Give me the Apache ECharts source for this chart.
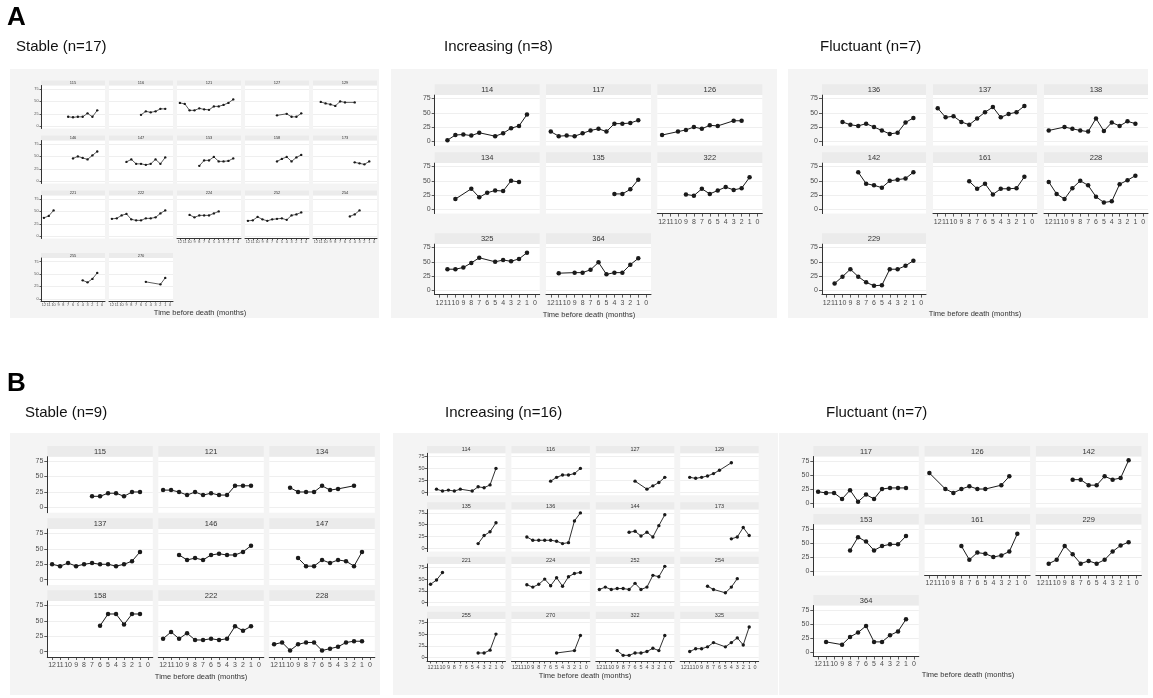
<!DOCTYPE html>
<html>
<head>
<meta charset="utf-8">
<script src="https://cdn.jsdelivr.net/npm/echarts@6/dist/echarts.min.js"></script>
<style>
html, body { margin: 0; padding: 0; background: #fff; }
#chart { width: 1153px; height: 698px; }
</style>
</head>
<body>
<div id="chart"></div>
<script>
const _ = null;
// months before death, left to right
const months = [12, 11, 10, 9, 8, 7, 6, 5, 4, 3, 2, 1, 0];
const yTicks = [0, 25, 50, 75];
const xTitle = 'Time before death (months)';

// one row per subject: [id, value at month 12 ... month 0]
const aStable = [
    ['115', [_, _, _, _, _, 19, 18, 19, 19, 26, 19, 32, _]],
    ['116', [_, _, _, _, _, _, 23, 30, 28, 30, 35, 35, _]],
    ['121', [47, 45, 32, 32, 36, 34, 33, 40, 40, 43, 47, 54, _]],
    ['127', [_, _, _, _, _, _, 22, _, 25, 19, 19, 26, _]],
    ['129', [_, 49, 46, 44, 41, 50, 48, _, 48, _, _, _, _]],
    ['146', [_, _, _, _, _, _, 46, 50, 47, 44, 52, 60, _]],
    ['147', [_, _, _, 39, 44, 35, 35, 33, 35, 44, 35, 48, _]],
    ['153', [_, _, _, _, 31, 42, 42, 49, 40, 40, 41, 46, _]],
    ['158', [_, _, _, _, _, _, 40, 45, 49, 40, 48, 53, _]],
    ['173', [_, _, _, _, _, _, _, _, 38, 36, 34, 40, _]],
    ['221', [37, 41, 52, _, _, _, _, _, _, _, _, _, _]],
    ['222', [35, 36, 42, 45, 34, 32, 32, 36, 36, 38, 46, 52, _]],
    ['224', [_, _, 43, 38, 42, 42, 42, 46, 50, _, _, _, _]],
    ['252', [31, 32, 39, 34, 31, 34, 35, 36, 33, 42, 44, 48, _]],
    ['254', [_, _, _, _, _, _, _, 40, 44, 52, _, _, _]],
    ['255', [_, _, _, _, _, _, _, _, 37, 33, 40, 52, _]],
    ['270', [_, _, _, _, _, _, _, 34, _, _, 29, 42, _]]
];

const aIncreasing = [
    ['114', [_, 2, 11, 12, 10, 15, _, 9, 14, 23, 27, 47, _]],
    ['117', [17, 9, 10, 9, 14, 19, 22, 17, 31, 31, 32, 37, _]],
    ['126', [11, _, 17, 20, 25, 22, 28, 27, _, 36, 36, _, _]],
    ['134', [_, _, 18, _, 36, 21, 29, 33, 32, 50, 48, _, _]],
    ['135', [_, _, _, _, _, _, _, _, 27, 27, 35, 52, _]],
    ['322', [_, _, _, 26, 24, 36, 27, 33, 39, 34, 37, 56, _]],
    ['325', [_, 37, 37, 40, 48, 57, _, 50, 53, 51, 55, 66, _]],
    ['364', [_, 30, _, 31, 31, 36, 49, 28, 31, 31, 45, 56, _]]
];

const aFluctuant = [
    ['136', [_, _, 34, 29, 27, 31, 25, 19, 13, 15, 33, 41, _]],
    ['137', [58, 42, 44, 34, 29, 40, 51, 60, 42, 48, 51, 62, _]],
    ['138', [19, _, 25, 22, 19, 17, 40, 18, 33, 27, 35, 31, _]],
    ['142', [_, _, _, _, 65, 45, 42, 38, 50, 52, 54, 65, _]],
    ['161', [_, _, _, _, 49, 36, 45, 26, 36, 36, 37, 57, _]],
    ['228', [48, 27, 18, 37, 50, 42, 22, 12, 14, 44, 51, 59, _]],
    ['229', [_, 12, 24, 37, 24, 14, 8, 9, 37, 37, 43, 52, _]]
];

const bStable = [
    ['115', [_, _, _, _, _, 18, 18, 23, 23, 18, 25, 25, _]],
    ['121', [28, 28, 25, 20, 25, 20, 23, 20, 20, 35, 35, 35, _]],
    ['134', [_, _, 32, 25, 25, 25, 35, 28, 30, _, 35, _, _]],
    ['137', [25, 22, 27, 22, 25, 27, 25, 25, 22, 25, 30, 45, _]],
    ['146', [_, _, 40, 32, 35, 32, 40, 42, 40, 40, 45, 55, _]],
    ['147', [_, _, _, 35, 22, 22, 32, 27, 32, 30, 22, 45, _]],
    ['158', [_, _, _, _, _, _, 42, 61, 61, 44, 61, 61, _]],
    ['222', [21, 32, 21, 30, 19, 19, 21, 19, 21, 41, 34, 41, _]],
    ['228', [12, 15, 2, 12, 15, 15, 2, 5, 8, 15, 17, 17, _]]
];

const bIncreasing = [
    ['114', [_, 6, 2, 4, 2, 6, _, 2, 11, 9, 15, 50, _]],
    ['116', [_, _, _, _, _, _, 23, 31, 36, 36, 39, 50, _]],
    ['127', [_, _, _, _, _, _, 23, _, 6, 13, 20, 31, _]],
    ['129', [_, 31, 29, 31, 34, 39, 46, _, 62, _, _, _, _]],
    ['135', [_, _, _, _, _, _, _, _, 10, 27, 35, 54, _]],
    ['136', [_, _, 24, 17, 17, 17, 17, 15, 10, 12, 58, 75, _]],
    ['144', [_, _, _, _, _, 34, 36, 26, 34, 24, 48, 71, _]],
    ['173', [_, _, _, _, _, _, _, _, 20, 24, 44, 27, _]],
    ['221', [39, 48, 64, _, _, _, _, _, _, _, _, _, _]],
    ['224', [_, _, 38, 33, 39, 50, 36, 53, 35, 55, 62, 64, _]],
    ['252', [28, 33, 28, 30, 30, 28, 41, 28, 33, 58, 55, 77, _]],
    ['254', [_, _, _, _, 35, 28, _, 21, 33, 51, _, _, _]],
    ['255', [_, _, _, _, _, _, _, _, 10, 10, 16, 50, _]],
    ['270', [_, _, _, _, _, _, _, 10, _, _, 15, 47, _]],
    ['322', [_, _, _, 15, 5, 5, 10, 10, 13, 20, 15, 47, _]],
    ['325', [_, 13, 19, 19, 23, 32, _, 23, 32, 42, 27, 65, _]]
];

const bFluctuant = [
    ['117', [20, 18, 18, 7, 23, 2, 15, 7, 25, 27, 27, 27, _]],
    ['126', [54, _, 25, 18, 25, 30, 25, 25, _, 32, 48, _, _]],
    ['142', [_, _, _, _, 42, 42, 32, 32, 48, 42, 45, 77, _]],
    ['153', [_, _, _, _, 37, 61, 53, 37, 45, 48, 48, 63, _]],
    ['161', [_, _, _, _, 45, 20, 33, 31, 25, 28, 35, 67, _]],
    ['229', [_, 13, 20, 45, 30, 13, 18, 13, 20, 35, 46, 52, _]],
    ['364', [_, 18, _, 13, 27, 35, 47, 18, 18, 30, 37, 59, _]]
];

// panel layout per group (pixels)
const groups = [
    { rows: aStable, title: 'Stable (n=17)', tx: 16, ty: 47, box: [10, 69, 369, 249],
      left: 41, colStep: 68, w: 64, cols: 5, rowTops: [80.5, 135.5, 190.5, 253], stripH: 5, plotH: 43,
      yMin: -4.5, yMax: 82, font: 3.8, strip: 4, sym: 2.4, lw: 0.7, tick: 1.5, xm: 1.5, ym: 2.5, xlabX: 200, xlabY: 313 },
    { rows: aIncreasing, title: 'Increasing (n=8)', tx: 444, ty: 47, box: [391, 69, 386, 249],
      left: 434.7, colStep: 111.3, w: 105, cols: 3, rowTops: [84.3, 152.3, 233.3], stripH: 10.8, plotH: 50.5,
      yMin: -7.5, yMax: 81, font: 7, strip: 7.5, sym: 4.5, lw: 1, tick: 3, xm: 5, ym: 4, xlabX: 589, xlabY: 315 },
    { rows: aFluctuant, title: 'Fluctuant (n=7)', tx: 820, ty: 47, box: [788, 69, 360, 249],
      left: 822, colStep: 111, w: 104, cols: 3, rowTops: [84.3, 152.3, 233.3], stripH: 10.8, plotH: 50.5,
      yMin: -7.5, yMax: 81, font: 7, strip: 7.5, sym: 4.5, lw: 1, tick: 3, xm: 5, ym: 4, xlabX: 975, xlabY: 314 },
    { rows: bStable, title: 'Stable (n=9)', tx: 25, ty: 413, box: [10, 433, 370, 262],
      left: 47.3, colStep: 111, w: 105.5, cols: 3, rowTops: [446, 518.3, 590.3], stripH: 10.7, plotH: 56,
      yMin: -8.5, yMax: 82, font: 7, strip: 7.5, sym: 4.5, lw: 1, tick: 3, xm: 4.5, ym: 4, xlabX: 201, xlabY: 677 },
    { rows: bIncreasing, title: 'Increasing (n=16)', tx: 445, ty: 413, box: [393, 433, 385, 262],
      left: 427, colStep: 84.4, w: 78.5, cols: 4, rowTops: [446, 502.3, 556.7, 611.7], stripH: 7.3, plotH: 42,
      yMin: -7, yMax: 82, font: 5.5, strip: 5.5, sym: 3.4, lw: 0.9, tick: 2.5, xm: 3, ym: 2.5, xlabX: 585, xlabY: 676 },
    { rows: bFluctuant, title: 'Fluctuant (n=7)', tx: 826, ty: 413, box: [779, 433, 369, 262],
      left: 813.3, colStep: 111.3, w: 105.5, cols: 3, rowTops: [446, 514, 595], stripH: 10.5, plotH: 51,
      yMin: -8.5, yMax: 84, font: 7, strip: 7.5, sym: 4.5, lw: 1, tick: 3, xm: 4.5, ym: 4, xlabX: 968, xlabY: 675 }
];

const font = 'Liberation Sans, Arial, Helvetica, sans-serif';

function label(text, x, y, size, opts) {
    opts = opts || {};
    return {
        type: 'text', x: x, y: y, silent: true, z: 5,
        style: {
            text: text, fontSize: size, fontFamily: font,
            fontWeight: opts.bold ? 'bold' : 'normal',
            fill: opts.color || '#111',
            align: opts.align || 'left', verticalAlign: 'middle'
        }
    };
}

const grid = [], xAxis = [], yAxis = [], series = [];
const graphic = [label('A', 7, 17.5, 26, { bold: true, color: '#000' }), label('B', 7, 383.5, 26, { bold: true, color: '#000' })];

groups.forEach(g => {
    graphic.push({ type: 'rect', z: -10, silent: true,
        shape: { x: g.box[0], y: g.box[1], width: g.box[2], height: g.box[3] }, style: { fill: '#f4f4f4' } });
    graphic.push(label(g.title, g.tx, g.ty, 15));
    graphic.push(label(xTitle, g.xlabX, g.xlabY, 7.5, { align: 'center', color: '#333' }));

    const n = g.rows.length;
    g.rows.forEach((row, i) => {
        const id = row[0], vals = row[1];
        const r = Math.floor(i / g.cols), c = i % g.cols;
        const x = g.left + c * g.colStep;
        const top = g.rowTops[r];
        const bottom = i + g.cols >= n;   // nothing below -> draw x axis
        const leftCol = c === 0;
        const k = grid.length;

        graphic.push({ type: 'rect', silent: true,
            shape: { x: x, y: top, width: g.w, height: g.stripH }, style: { fill: '#ebebeb' } });
        graphic.push(label(id, x + g.w / 2, top + g.stripH / 2 + 0.3, g.strip, { align: 'center', color: '#333' }));

        grid.push({
            left: x, top: top + g.stripH, width: g.w, height: g.plotH,
            show: true, backgroundColor: '#fff', borderWidth: 0,
            containLabel: false, outerBoundsMode: 'none'
        });
        xAxis.push({
            type: 'value', gridIndex: k, min: -0.6, max: 12.6, inverse: true,
            axisLine: { show: bottom, onZero: false, lineStyle: { color: '#333', width: 1 } },
            axisTick: { show: bottom, customValues: months, length: g.tick, lineStyle: { color: '#333', width: 0.8 } },
            axisLabel: { show: bottom, customValues: months, fontSize: g.font, fontFamily: font, color: '#4d4d4d', margin: g.xm },
            splitLine: { show: false }
        });
        yAxis.push({
            type: 'value', gridIndex: k, min: g.yMin, max: g.yMax,
            axisLine: { show: leftCol, onZero: false, lineStyle: { color: '#333', width: 1 } },
            axisTick: { show: leftCol, customValues: yTicks, length: g.tick, lineStyle: { color: '#333', width: 0.8 } },
            axisLabel: { show: leftCol, customValues: yTicks, fontSize: g.font, fontFamily: font, color: '#4d4d4d', margin: g.ym },
            splitLine: { show: true, lineStyle: { color: '#ebebeb', width: 0.8 } }
        });
        series.push({
            type: 'line', name: id, xAxisIndex: k, yAxisIndex: k,
            data: vals.map((v, j) => [months[j], v]).filter(p => p[1] !== null),
            symbol: 'circle', symbolSize: g.sym, showSymbol: true,
            lineStyle: { color: '#1a1a1a', width: g.lw },
            itemStyle: { color: '#1a1a1a' },
            silent: true, z: 3
        });
    });
});

const myChart = echarts.init(document.getElementById('chart'));
myChart.setOption({
    animation: false,
    backgroundColor: '#fff',
    grid: grid,
    xAxis: xAxis,
    yAxis: yAxis,
    series: series,
    graphic: graphic
});
</script>
</body>
</html>
